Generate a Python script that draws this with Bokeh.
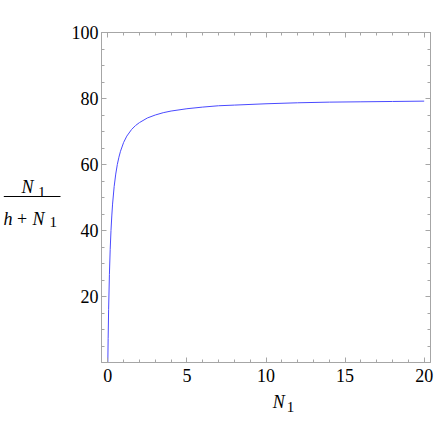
from bokeh.plotting import figure
from bokeh.layouts import row, column
from bokeh.models import Range1d, FixedTicker, LinearAxis
from bokeh.core.properties import value
from bokeh.embed import file_html
from bokeh.resources import INLINE

# values
n1 = [0, 0.02, 0.05, 0.1, 0.15, 0.2, 0.25, 0.3, 0.4, 0.5, 0.6, 0.7, 0.8, 1.0,
      1.2, 1.5, 1.75, 2.0, 2.5, 3, 3.5, 4, 5, 6, 7, 8, 10, 12, 14, 16, 18, 20]
ratio = [0, 7.3, 16.0, 26.7, 34.3, 40.0, 44.4, 48.0, 53.3, 57.1, 60.0, 62.2, 64.0, 66.7,
         68.6, 70.6, 71.8, 72.7, 74.1, 75.0, 75.7, 76.2, 76.9, 77.4, 77.8, 78.0, 78.4,
         78.7, 78.9, 79.0, 79.1, 79.2]
x_ticks = [0, 5, 10, 15, 20]
x_minor = list(range(0, 21))
y_ticks = [20, 40, 60, 80, 100]
y_minor = list(range(5, 101, 5))

FRAME = "#a6a6a6"
SERIF = "Liberation Serif"
LEFT_W = 62
TOTAL_W = 434
MAIN_H = 392
TOTAL_H = 434

# ---------- main plot ----------
p = figure(width=TOTAL_W - LEFT_W, height=MAIN_H, output_backend="svg", toolbar_location=None,
           x_range=Range1d(-0.4, 20.4), y_range=Range1d(0, 100),
           min_border_left=101 - LEFT_W, min_border_right=TOTAL_W - 432,
           min_border_top=32, min_border_bottom=MAIN_H - 362,
           x_axis_location=None, y_axis_location=None)
p.grid.visible = False
p.outline_line_color = FRAME

def style(ax, ticks, show):
    ax.axis_line_color = FRAME
    ax.major_tick_line_color = FRAME
    ax.minor_tick_line_color = FRAME
    ax.major_tick_in = 5
    ax.major_tick_out = 0
    ax.minor_tick_in = 3
    ax.minor_tick_out = 0
    ax.major_label_text_font = SERIF
    ax.major_label_text_color = "black"
    if show:
        ax.major_label_text_font_size = "18px"
    else:
        ax.major_label_text_font_size = "2px"
        ax.major_label_overrides = {t: " " for t in ticks}
        ax.major_label_standoff = 0

xb = LinearAxis(ticker=FixedTicker(ticks=x_ticks, minor_ticks=x_minor))
style(xb, x_ticks, True)
xb.major_label_standoff = 6
p.add_layout(xb, "below")

xa = LinearAxis(ticker=FixedTicker(ticks=x_ticks, minor_ticks=x_minor))
style(xa, x_ticks, False)
p.add_layout(xa, "above")

yl = LinearAxis(ticker=FixedTicker(ticks=y_ticks, minor_ticks=y_minor))
style(yl, y_ticks, True)
yl.major_label_standoff = 3
p.add_layout(yl, "left")

yr = LinearAxis(ticker=FixedTicker(ticks=y_ticks, minor_ticks=y_minor))
style(yr, y_ticks, False)
p.add_layout(yr, "right")

p.line(n1, ratio, line_color="#4a4aff", line_width=1)

# ---------- label panels (coordinates = page pixels) ----------
def panel(w, h, x0, y0):
    f = figure(width=w, height=h, output_backend="svg", toolbar_location=None,
               x_range=Range1d(x0, x0 + w), y_range=Range1d(y0 + h, y0),
               min_border=0, x_axis_location=None, y_axis_location=None)
    f.grid.visible = False
    f.outline_line_color = None
    return f

def txt(f, x, y, t, italic=False, size="18px"):
    f.text(x=[x], y=[y], text=[t], text_font=value(SERIF), text_font_size=size,
           text_font_style="italic" if italic else "normal", text_color="black",
           text_baseline="alphabetic", text_align="left")

lf = panel(LEFT_W, TOTAL_H, 0, 0)
txt(lf, 21, 186.5, "N", italic=True)
txt(lf, 37.5, 191.5, "1", size="15px")
lf.segment(x0=[3.3], y0=[196], x1=[60], y1=[196], line_color="black", line_width=1)
txt(lf, 3, 218.3, "h", italic=True)
txt(lf, 16.5, 218.3, "+")
txt(lf, 32, 218.3, "N", italic=True)
txt(lf, 49, 221.7, "1", size="15px")

bf = panel(TOTAL_W - LEFT_W, TOTAL_H - MAIN_H, LEFT_W, MAIN_H)
txt(bf, 255.5, 401.7, "N", italic=True)
txt(bf, 271.5, 406, "1", size="15px")

layout = row(lf, column(p, bf))
open("out.html", "w").write(file_html(layout, INLINE))
